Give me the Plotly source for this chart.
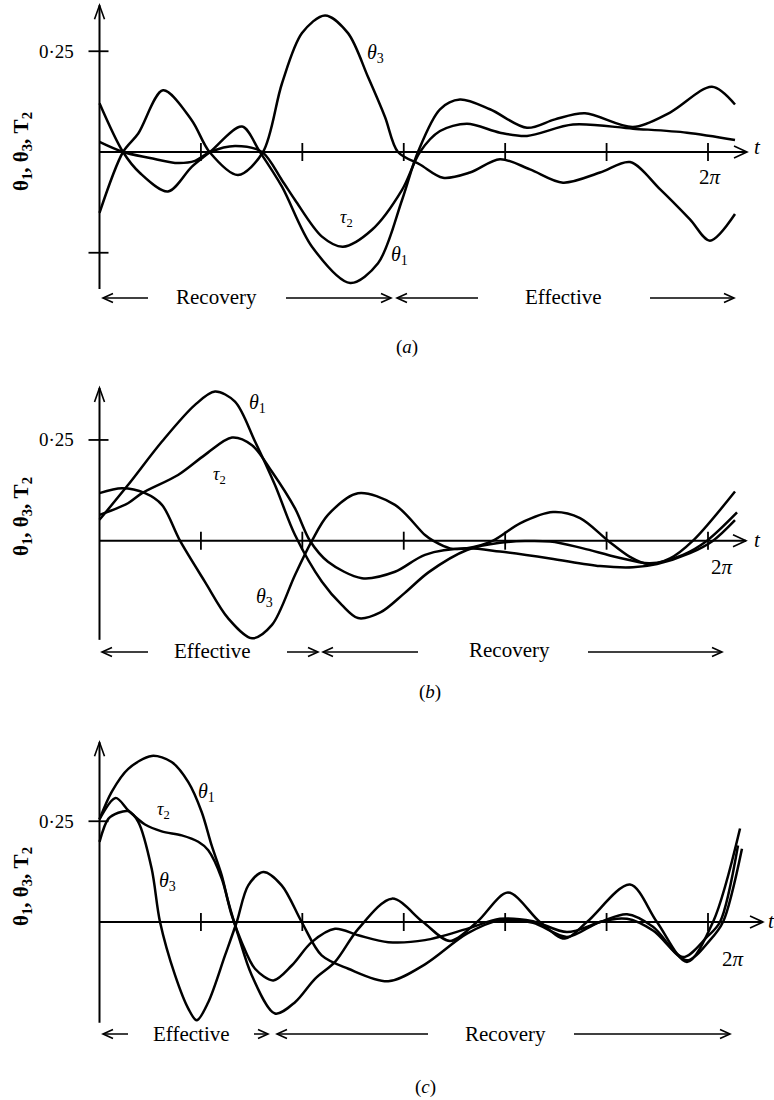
import math
import plotly.graph_objects as go

W, H = 774, 1100

# ---------------- data (t in radians) ----------------
# Panel (a)
A_T_TH1 = [0, 0.243, 0.418, 0.707, 0.952, 1.141, 1.471, 1.657, 1.884, 2.194, 2.588, 2.876, 3.124, 3.288,
           3.516, 3.722, 4.032, 4.414, 4.703, 5.013, 5.509, 5.891, 6.324, 6.562]
A_V_TH1 = [0.121, 0.0, -0.052, -0.098, -0.037, 0.0, 0.063, 0.0, -0.086, -0.235, -0.325, -0.276, -0.119, 0.0,
           0.106, 0.130, 0.106, 0.060, 0.081, 0.096, 0.062, 0.098, 0.162, 0.118]
A_T_TH3 = [0, 0.243, 0.40, 0.656, 0.952, 1.136, 1.430, 1.688, 1.884, 2.091, 2.329, 2.566, 2.773, 2.948, 3.082,
           3.309, 3.547, 3.825, 4.135, 4.445, 4.786, 5.168, 5.478, 5.787, 6.097, 6.303, 6.562]
A_V_TH3 = [-0.151, 0.0, 0.046, 0.153, 0.079, 0.0, -0.057, 0.0, 0.170, 0.295, 0.339, 0.295, 0.186, 0.087, 0.0,
           -0.031, -0.064, -0.051, -0.018, -0.043, -0.076, -0.051, -0.025, -0.092, -0.167, -0.220, -0.154]
A_T_TAU2 = [0, 0.243, 0.521, 0.780, 0.986, 1.141, 1.399, 1.678, 1.884, 2.019, 2.297, 2.514, 2.814, 3.124, 3.309,
            3.516, 3.794, 4.135, 4.414, 4.889, 5.509, 6.066, 6.562]
A_V_TAU2 = [0.025, 0.0, -0.015, -0.027, -0.022, 0.0, 0.015, 0.0, -0.070, -0.119, -0.210, -0.235, -0.193, -0.094, 0.0,
            0.052, 0.070, 0.048, 0.040, 0.068, 0.058, 0.048, 0.030]

# Panel (b)
B_T_TH1 = [0, 0.294, 0.645, 0.986, 1.193, 1.399, 1.606, 1.812, 2.019, 2.297, 2.504, 2.669, 2.900, 3.150, 3.400,
           3.794, 4.135, 4.652, 4.993, 5.344, 5.684, 6.025, 6.273, 6.583]
B_V_TH1 = [0.052, 0.138, 0.246, 0.337, 0.370, 0.345, 0.246, 0.138, 0.014, -0.102, -0.160, -0.192, -0.178, -0.130,
           -0.078, -0.023, -0.005, -0.002, -0.019, -0.041, -0.056, -0.035, 0.0, 0.070]
B_T_TH3 = [0, 0.232, 0.470, 0.645, 0.831, 1.089, 1.327, 1.575, 1.781, 2.019, 2.194, 2.359, 2.669, 3.051, 3.361,
           3.444, 3.619, 3.794, 4.063, 4.342, 4.683, 4.962, 5.251, 5.477, 5.664, 5.891, 6.128, 6.562]
B_V_TH3 = [0.118, 0.130, 0.118, 0.089, 0.0, -0.102, -0.192, -0.242, -0.209, -0.085, 0.0, 0.064, 0.118, 0.089, 0.014,
           0.0, -0.019, -0.019, 0.0, 0.043, 0.071, 0.056, 0.0, -0.040, -0.058, -0.044, 0.0, 0.122]
B_T_TAU2 = [0, 0.294, 0.439, 0.811, 1.089, 1.368, 1.575, 1.781, 2.019, 2.173, 2.359, 2.710, 3.051, 3.361, 3.794,
            4.135, 4.652, 5.168, 5.509, 5.757, 6.097, 6.335, 6.562]
B_V_TAU2 = [0.064, 0.093, 0.118, 0.163, 0.213, 0.256, 0.237, 0.171, 0.080, 0.0, -0.052, -0.093, -0.077, -0.035,
            -0.019, -0.027, -0.044, -0.063, -0.066, -0.058, -0.031, 0.0, 0.051]

# Panel (c)
C_T_TH1 = [0, 0.126, 0.297, 0.539, 0.745, 0.917, 1.055, 1.158, 1.262, 1.330, 1.433, 1.572, 1.812, 2.019, 2.225,
           2.432, 2.672, 3.020, 3.340, 3.619, 3.898, 4.218, 4.548, 4.806, 5.033, 5.477, 5.756, 6.066, 6.335, 6.614]
C_V_TH1 = [0.255, 0.323, 0.380, 0.412, 0.397, 0.347, 0.273, 0.190, 0.116, 0.050, -0.033, -0.132, -0.227, -0.199,
           -0.141, -0.099, -0.017, 0.058, 0.0, -0.047, 0.0, 0.073, 0.0, -0.041, 0.0, 0.093, 0.0, -0.099, 0.0, 0.232]
C_T_TH3 = [0, 0.091, 0.194, 0.297, 0.401, 0.539, 0.625, 0.780, 0.917, 1.004, 1.123, 1.296, 1.417, 1.536, 1.691,
           1.881, 2.088, 2.294, 2.569, 2.982, 3.361, 3.794, 4.135, 4.476, 4.827, 5.168, 5.447, 5.715, 6.066, 6.304,
           6.438, 6.634]
C_V_TH3 = [0.199, 0.256, 0.271, 0.275, 0.248, 0.132, 0.0, -0.132, -0.215, -0.244, -0.199, -0.083, 0.0, 0.091, 0.124,
           0.091, 0.0, -0.083, -0.116, -0.147, -0.105, -0.029, 0.004, -0.002, -0.037, 0.0, 0.008, -0.021, -0.095,
           -0.045, 0.0, 0.182]
C_T_TAU2 = [0, 0.167, 0.297, 0.470, 0.642, 0.849, 1.020, 1.123, 1.262, 1.365, 1.468, 1.606, 1.795, 1.985, 2.191,
            2.432, 2.672, 2.982, 3.361, 3.794, 4.135, 4.476, 4.827, 5.168, 5.447, 5.715, 6.025, 6.273, 6.407, 6.593]
C_V_TAU2 = [0.255, 0.308, 0.277, 0.242, 0.225, 0.215, 0.199, 0.178, 0.108, 0.017, -0.050, -0.116, -0.145, -0.108,
            -0.050, -0.017, -0.033, -0.050, -0.045, -0.017, 0.008, 0.002, -0.025, 0.0, 0.019, -0.012, -0.087, -0.037,
            0.0, 0.190]

TICK_TS = [k * math.pi / 3 for k in range(1, 7)]
Y_TICKS = [[0.25, -0.25], [0.25], [0.25]]
Y_TICK_LABEL = "0·25"
PHASES = [["Recovery", "Effective"], ["Effective", "Recovery"], ["Effective", "Recovery"]]
CAPTIONS = ["(<i>a</i>)", "(<i>b</i>)", "(<i>c</i>)"]
SERIES = [
    [(A_T_TH1, A_V_TH1), (A_T_TH3, A_V_TH3), (A_T_TAU2, A_V_TAU2)],
    [(B_T_TH1, B_V_TH1), (B_T_TH3, B_V_TH3), (B_T_TAU2, B_V_TAU2)],
    [(C_T_TH1, C_V_TH1), (C_T_TH3, C_V_TH3), (C_T_TAU2, C_V_TAU2)],
]

# ---------------- layout geometry (pixels) ----------------
X0 = 99.5                    # pixel of t = 0
KX = (708 - X0) / (2 * math.pi)   # px per radian
KY = 403.0                   # px per unit value
PANEL = [
    dict(top=0, bot=362, zero=152.0, ytop=0.364, ybot=-0.340, xtip=747),
    dict(top=362, bot=725, zero=540.7, ytop=0.379, ybot=-0.246, xtip=746),
    dict(top=725, bot=1100, zero=922.0, ytop=0.446, ybot=-0.250, xtip=763),
]
FONT = "Liberation Serif, Times New Roman, DejaVu Serif, serif"

def px(x):
    return x / W

def py(y):
    return 1 - y / H

fig = go.Figure()
shapes = []
annotations = []
layout_axes = {}

for i, p in enumerate(PANEL):
    sfx = "" if i == 0 else str(i + 1)
    xa, ya = "x" + sfx, "y" + sfx
    layout_axes["xaxis" + sfx] = dict(domain=[0, 1], range=[-X0 / KX, (W - X0) / KX], visible=False,
                                      anchor=ya, fixedrange=True)
    layout_axes["yaxis" + sfx] = dict(domain=[py(p["bot"]), py(p["top"])],
                                      range=[(p["zero"] - p["bot"]) / KY, (p["zero"] - p["top"]) / KY],
                                      visible=False, anchor=xa, fixedrange=True)
    for (tt, vv) in SERIES[i]:
        fig.add_trace(go.Scatter(x=tt, y=vv, mode="lines", xaxis=xa, yaxis=ya,
                                 line=dict(color="black", width=2.5, shape="spline", smoothing=0.9),
                                 showlegend=False, hoverinfo="skip"))
    lw = 2
    ttip = (p["xtip"] - X0) / KX
    # x axis with arrow
    shapes.append(dict(type="line", xref=xa, yref=ya, x0=0, y0=0, x1=ttip, y1=0,
                       line=dict(color="black", width=lw)))
    dt, dv = 13 / KX, 6 / KY
    shapes.append(dict(type="path", xref=xa, yref=ya,
                       path=f"M {ttip-dt} {dv} L {ttip} 0 L {ttip-dt} {-dv}",
                       line=dict(color="black", width=1.6)))
    # y axis with arrow
    shapes.append(dict(type="line", xref=xa, yref=ya, x0=0, y0=p["ybot"], x1=0, y1=p["ytop"],
                       line=dict(color="black", width=lw)))
    dt2, dv2 = 5 / KX, 14 / KY
    shapes.append(dict(type="path", xref=xa, yref=ya,
                       path=f"M {-dt2} {p['ytop']-dv2} L 0 {p['ytop']} L {dt2} {p['ytop']-dv2}",
                       line=dict(color="black", width=1.6)))
    # x ticks
    for t in TICK_TS:
        shapes.append(dict(type="line", xref=xa, yref=ya, x0=t, x1=t, y0=-9 / KY, y1=9 / KY,
                           line=dict(color="black", width=1.8)))
    # y ticks
    for v in Y_TICKS[i]:
        shapes.append(dict(type="line", xref=xa, yref=ya, x0=-11 / KX, x1=9 / KX, y0=v, y1=v,
                           line=dict(color="black", width=1.8)))
    annotations.append(dict(xref=xa, yref=ya, x=-24 / KX, y=0.25, text=Y_TICK_LABEL, showarrow=False,
                            xanchor="right", yanchor="middle", font=dict(family=FONT, size=19, color="black")))

# ---------- text annotations (pixel positions) ----------
def text(x, y, s, size=20, anchor="center", angle=0, family=FONT):
    annotations.append(dict(xref="paper", yref="paper", x=px(x), y=py(y), text=s, showarrow=False,
                            xanchor=anchor, yanchor="middle", textangle=angle,
                            font=dict(family=family, size=size, color="black")))

def harrow(x1, x2, y):
    shapes.append(dict(type="line", xref="paper", yref="paper", x0=px(x1), x1=px(x2), y0=py(y), y1=py(y),
                       line=dict(color="black", width=1.5)))
    d = 10 if x2 > x1 else -10
    shapes.append(dict(type="path", xref="paper", yref="paper",
                       path=f"M {px(x2-d)} {py(y-4.5)} L {px(x2)} {py(y)} L {px(x2-d)} {py(y+4.5)}",
                       line=dict(color="black", width=1.6)))

YTITLE = "<b>θ<sub>1</sub>, θ<sub>3</sub>, T<sub>2</sub></b>"
for yc in (152, 517, 887):
    text(22, yc, YTITLE, size=21, angle=-90)

# curve labels
LAB_TH1 = "<i>θ</i><sub>1</sub>"
LAB_TH3 = "<i>θ</i><sub>3</sub>"
LAB_TAU = "<i>τ</i><sub>2</sub>"
text(375, 53, LAB_TH3); text(346, 218, LAB_TAU, size=18); text(400, 256, LAB_TH1)
text(257, 403, LAB_TH1); text(219, 475, LAB_TAU, size=18); text(264, 597, LAB_TH3)
text(207, 792, LAB_TH1); text(163, 810, LAB_TAU, size=18); text(167, 882, LAB_TH3)

# t and 2π labels
for (xt, yt) in ((757, 147), (757, 540), (771, 921)):
    text(xt, yt, "<i>t</i>", size=21)
for (x2, y2) in ((710, 177), (722, 567), (733, 959)):
    text(x2, y2, "2<i>π</i>", size=21)

# phase arrows
harrow(148, 103, 298); text(217, 297, PHASES[0][0], size=21); harrow(286, 391, 298)
harrow(478, 397, 298); text(563, 297, PHASES[0][1], size=21); harrow(650, 734, 298)
harrow(148, 102, 652); text(212, 651, PHASES[1][0], size=21); harrow(287, 318, 652)
harrow(418, 323, 652); text(510, 650, PHASES[1][1], size=21); harrow(588, 722, 652)
harrow(128, 103, 1034); text(191, 1034, PHASES[2][0], size=21); harrow(254, 268, 1034)
harrow(428, 277, 1034); text(505, 1034, PHASES[2][1], size=21); harrow(574, 730, 1034)

# captions
text(407, 347, CAPTIONS[0], size=19)
text(430, 692, CAPTIONS[1], size=19)
text(425, 1087, CAPTIONS[2], size=19)

fig.update_layout(width=W, height=H, margin=dict(l=0, r=0, t=0, b=0),
                  paper_bgcolor="white", plot_bgcolor="white",
                  shapes=shapes, annotations=annotations, showlegend=False, **layout_axes)
fig.write_html("out.html")
